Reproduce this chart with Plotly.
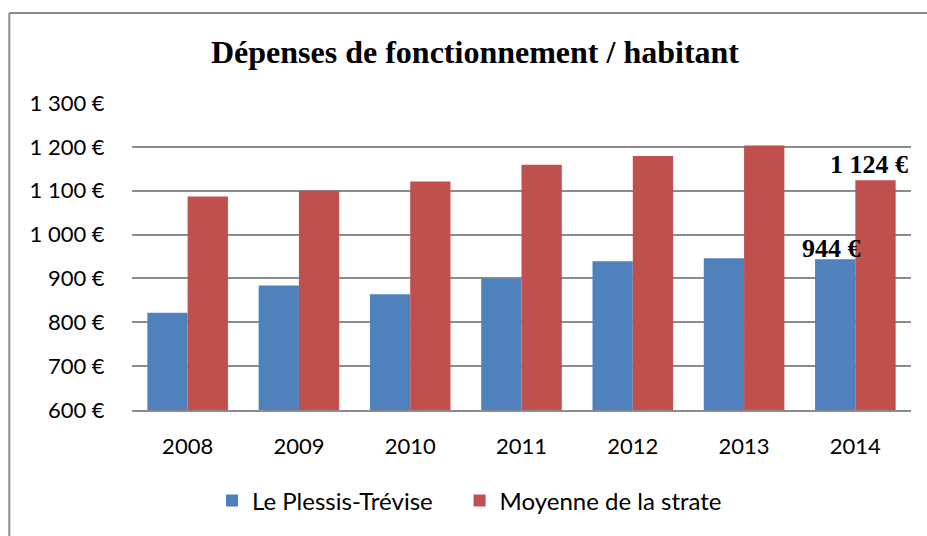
import plotly.graph_objects as go

years = ["2008", "2009", "2010", "2011", "2012", "2013", "2014"]
plessis = [822, 884, 864, 900, 939, 946, 944]
strate = [1087, 1100, 1121, 1159, 1179, 1203, 1124]
tick_vals = [600, 700, 800, 900, 1000, 1100, 1200, 1300]
tick_text = ["600 €", "700 €", "800 €", "900 €", "1 000 €", "1 100 €", "1 200 €", "1 300 €"]
label_plessis = "944 €"
label_strate = "1 124 €"

BLUE = "#4F81BD"
RED = "#C0504D"
GRID = "#8C8C8C"
TICKFONT = "Lato"
SERIF = "Liberation Serif"

fig = go.Figure()
fig.add_trace(go.Bar(x=years, y=plessis, name="Le Plessis-Trévise", legend="legend",
                     marker=dict(color=BLUE, line=dict(width=0))))
fig.add_trace(go.Bar(x=years, y=strate, name="Moyenne de la strate", legend="legend2",
                     marker=dict(color=RED, line=dict(width=0))))

last = len(years) - 1  # category index of the last year
# value labels on the last year
fig.add_annotation(x=last, y=plessis[-1], text="<b>" + label_plessis + "</b>",
                   showarrow=False, xref="x", yref="y", xshift=-24, yanchor="bottom", yshift=-6,
                   font=dict(family=SERIF, size=26, color="black"))
fig.add_annotation(x=last, y=strate[-1], text="<b>" + label_strate + "</b>",
                   showarrow=False, xref="x", yref="y", xshift=14, yanchor="bottom", yshift=-1,
                   font=dict(family=SERIF, size=26, color="black"))

# chart frame (top and left borders)
fig.add_shape(type="line", xref="paper", yref="paper", x0=-0.1575, x1=1.05, y0=1.2928, y1=1.2928,
              line=dict(color=GRID, width=2))
fig.add_shape(type="line", xref="paper", yref="paper", x0=-0.1575, x1=-0.1575, y0=1.2928, y1=-0.45,
              line=dict(color=GRID, width=2))

legend_font = dict(family=TICKFONT, size=24, color="black")
fig.update_layout(
    width=927, height=536,
    margin=dict(l=132, r=16, t=103, b=124),
    paper_bgcolor="white", plot_bgcolor="white",
    barmode="group", bargap=0.276, bargroupgap=0,
    title=dict(text="<b>Dépenses de fonctionnement / habitant</b>",
               x=475 / 927, xanchor="center", y=1 - 52 / 536, yanchor="middle",
               xref="container", yref="container",
               font=dict(family=SERIF, size=32, color="black")),
    legend=dict(orientation="h", x=0.1027, xanchor="left", y=-0.296, yanchor="middle",
                font=legend_font, bgcolor="rgba(0,0,0,0)"),
    legend2=dict(orientation="h", x=0.4205, xanchor="left", y=-0.296, yanchor="middle",
                 font=legend_font, bgcolor="rgba(0,0,0,0)"),
    showlegend=True,
)
fig.update_xaxes(type="category", categoryorder="array", categoryarray=years,
                 range=[-0.5, len(years) - 0.5], autorange=False,
                 showgrid=False, showline=True, linecolor=GRID, linewidth=1.5,
                 ticks="outside", ticklen=16, tickcolor="white",
                 tickfont=dict(family=TICKFONT, size=22, color="black"))
fig.update_yaxes(range=[600, 1300], autorange=False, tickvals=tick_vals, ticktext=tick_text,
                 showgrid=True, gridcolor=GRID, gridwidth=1.5, zeroline=False,
                 showline=False, ticks="outside", ticklen=22, tickcolor="white",
                 tickfont=dict(family=TICKFONT, size=22, color="black"))

fig.write_html("out.html", config={"displayModeBar": False})

# remove the default page margin so the figure sits at the window origin
with open("out.html", "r", encoding="utf-8") as f:
    html = f.read()
html = html.replace("<head>", "<head><style>html,body{margin:0;padding:0;overflow:hidden;}</style>", 1)
with open("out.html", "w", encoding="utf-8") as f:
    f.write(html)
